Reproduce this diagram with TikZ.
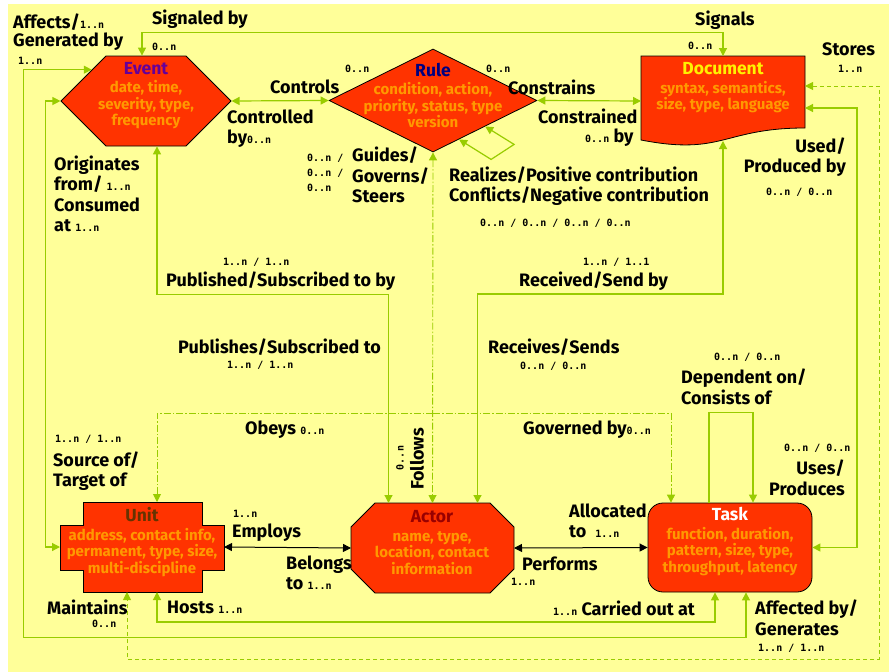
\documentclass[tikz,border=0pt]{standalone}
\usepackage{fontspec}
\setmainfont{Fira Sans}
\newfontfamily\multfont{DejaVu Sans Mono}
\usetikzlibrary{arrows.meta,shapes.geometric,shapes.symbols,calc}
\definecolor{bgyellow}{HTML}{FFFF99}
\definecolor{linkgreen}{HTML}{99CC00}
\definecolor{entityred}{HTML}{FF3300}
\definecolor{attrorange}{HTML}{FF9900}
\definecolor{eventpurple}{HTML}{660099}
\definecolor{rulenavy}{HTML}{000080}
\definecolor{unitbrown}{HTML}{663300}
\definecolor{actorred}{HTML}{990000}
\newcommand{\mlt}[1]{{\fontsize{10}{13}\multfont\bfseries #1}}
\newcommand{\ttl}[2]{{\fontsize{17.5}{19}\selectfont\color{#1}#2}}
\begin{document}
\begin{tikzpicture}
	[x=1pt, y=-1pt,
	>={Triangle[length=8pt,width=8pt]},
	entity/.style={draw=black, line width=0.8pt, fill=entityred, inner sep=0pt},
	hidden/.style={inner sep=0pt, outer sep=0pt},
	entitytext/.style={align=center, inner sep=0pt, text=attrorange,
		font=\fontsize{15}{16.5}\selectfont\bfseries},
	link/.style={draw=linkgreen, line width=1.2pt},
	rulelink/.style={draw=linkgreen, line width=0.9pt, dash pattern=on 7pt off 2pt on 1.5pt off 2pt},
	storelink/.style={draw=linkgreen, line width=0.9pt, dash pattern=on 4pt off 3pt},
	pairlink/.style={draw=black, line width=1pt},
	lbl/.style={anchor=west, inner sep=0pt, font=\fontsize{18}{20.5}\selectfont\bfseries},
	mult/.style={anchor=west, inner sep=0pt, font=\fontsize{10}{15}\multfont\bfseries}]
	\useasboundingbox (0,0) rectangle (889,672);
	\fill[bgyellow] (8,4) rectangle (889,672);

	\node[entity, signal, signal to=west and east, signal pointer angle=90,
		minimum width=170pt, minimum height=90pt] (event) at (146,101) {};
	\node[entity, diamond, minimum width=208pt, minimum height=103pt] (rule) at (433,100.5) {};
	\node[hidden, minimum width=164pt, minimum height=90pt] (doc) at (723,101) {};
	\draw[entity] (doc.north west) -- (doc.north east) -- (805,128)
		.. controls (723,128) and (723,156) .. (641,140) -- cycle;
	\node[hidden, minimum width=164pt, minimum height=90pt] (unit) at (142,547) {};
	\draw[entity] (83,502) -- (202,502) -- (202,525) -- (224,525) -- (224,570) -- (202,570)
		-- (202,592) -- (83,592) -- (83,570) -- (60,570) -- (60,525) -- (83,525) -- cycle;
	\node[hidden, minimum width=163pt, minimum height=90pt] (actor) at (432.5,548) {};
	\draw[entity] (375,503) -- (490,503) -- (514,527) -- (514,569) -- (490,593) -- (375,593)
		-- (351,569) -- (351,527) -- cycle;
	\node[entity, rounded corners=15pt, minimum width=164pt, minimum height=89pt] (task) at (730,547.5) {};

	\node[entitytext] (event-txt) at (146,95.5) {\ttl{eventpurple}{Event}\\[2pt]date, time,\\severity, type,\\frequency};
	\node[entitytext] (rule-txt) at (433,95.5) {\ttl{rulenavy}{Rule}\\[2pt]condition, action,\\priority, status, type\\version};
	\node[entitytext] (doc-txt) at (723,88) {\ttl{yellow}{Document}\\[2pt]syntax, semantics,\\size, type, language};
	\node[entitytext] (unit-txt) at (142,542) {\ttl{unitbrown}{Unit}\\[2pt]address, contact info,\\permanent, type, size,\\multi-discipline};
	\node[entitytext] (actor-txt) at (432,542.5) {\ttl{actorred}{Actor}\\[2pt]name, type,\\location, contact\\information};
	\node[entitytext] (task-txt) at (730,541.5) {\ttl{white}{Task}\\[2pt]function, duration,\\pattern, size, type,\\throughput, latency};

	\draw[link,<->] ([xshift=-4pt]event.north) -- ++(0,-23) -| (doc.north);
	\draw[link,<->] (event.east) -- (rule.west);
	\draw[link,<->] (rule.east) -- (doc.west);
	\draw[link,<->] ($(rule.south)!0.25!(rule.east)$) -- ++(32,20) -- ++(23,-15) -- (rule.south east);
	\draw[rulelink,<->] (rule.south) -- (actor.north);
	\draw[rulelink,->] ([yshift=-261pt]rule.south) -| ([xshift=15pt]unit.north);
	\draw[rulelink,->] ([yshift=-261pt]rule.south) -| ([xshift=-59pt]task.north);
	\draw[link,<->] ([xshift=11pt]event.south) -- ++(0,148) -| ([xshift=-44pt]actor.north);
	\draw[link,<->] ([yshift=5pt]doc.south) -- ++(0,153) -| ([xshift=45pt]actor.north);
	\draw[link,<->] ([yshift=-7pt]doc.east) -- ++(52,0) |- (task.east);
	\draw[storelink,<->] ([yshift=15pt]doc.east) -- ++(74,0) -- ++(0,573) -| ([xshift=-15pt]unit.south);
	\draw[link,->] ([xshift=-21pt]task.north) -- ++(0,-90) -| ([xshift=23pt]task.north);
	\draw[pairlink,<->] (unit.east) -- (actor.west);
	\draw[pairlink,<->] (actor.east) -- (task.west);
	\draw[link,<->] ([xshift=15pt]unit.south) -- ++(0,30) -| ([xshift=-15pt]task.south);
	\draw[link,<->] (event.150) -- ++(-68,0) -- ++(0,568) -| ([xshift=16pt]task.south);
	\draw[link,<->] (event.west) -- ++(-15,0) |- (unit.west);

	\node[lbl] (affects) at (13,22) {Affects/\mlt{1..n}};
	\node[lbl] (generated) at (13,42) {Generated by};
	\node[mult] (affects-m) at (18,61) {1..n};
	\node[lbl] (signaled) at (152,19) {Signaled by};
	\node[mult] (signaled-m) at (152,47) {0..n};
	\node[lbl] (signals) at (695,20) {Signals};
	\node[mult] (signals-m) at (688,46) {0..n};
	\node[lbl] (stores) at (822,49) {Stores};
	\node[mult] (stores-m) at (838,69) {1..n};
	\node[mult] (controls-m) at (345,69) {0..n};
	\node[mult] (constrains-m) at (486,69) {0..n};
	\node[lbl] (controls) at (270,87) {Controls};
	\node[lbl] (constrains) at (508,87) {Constrains};
	\node[lbl] (controlled) at (227,117) {Controlled};
	\node[lbl] (controlled-by) at (227,139) {by\mlt{0..n}};
	\node[lbl] (constrained) at (538,116) {Constrained};
	\node[lbl] (constrained-by) at (585,138) {\mlt{0..n} by};
	\node[mult, align=left] (guides-m) at (307,173) {0..n /\\0..n /\\0..n};
	\node[lbl, align=left] (guides) at (352,175) {Guides/\\Governs/\\Steers};
	\node[lbl, align=left] (realizes) at (449,186) {Realizes/Positive contribution\\Conflicts/Negative contribution};
	\node[mult] (realizes-m) at (480,223) {0..n / 0..n / 0..n / 0..n};
	\node[lbl, align=left] (originates) at (54,194) {Originates\\from/ \mlt{1..n}\\Consumed\\at \mlt{1..n}};
	\node[lbl, align=right, anchor=east] (used) at (846,157) {Used/\\Produced by};
	\node[mult] (used-m) at (766,192) {0..n / 0..n};
	\node[mult] (published-m) at (223,262) {1..n / 1..n};
	\node[lbl] (published) at (166,281) {Published/Subscribed to by};
	\node[mult] (received-m) at (583,262) {1..n / 1..1};
	\node[lbl] (received) at (519,281) {Received/Send by};
	\node[lbl] (publishes) at (178,347) {Publishes/Subscribed to};
	\node[mult] (publishes-m) at (227,365) {1..n / 1..n};
	\node[lbl] (receives) at (488,347) {Receives/Sends};
	\node[mult] (receives-m) at (520,366) {0..n / 0..n};
	\node[mult] (dependent-m) at (714,357) {0..n / 0..n};
	\node[lbl, align=left] (dependent) at (681,387) {Dependent on/\\Consists of};
	\node[lbl] (obeys) at (245,430) {Obeys \mlt{0..n}};
	\node[lbl] (governed) at (523,430) {Governed by\mlt{0..n}};
	\node[mult] (source-m) at (55,439) {1..n / 1..n};
	\node[lbl, align=left] (source) at (53,471) {Source of/\\Target of};
	\node[mult] (uses-m) at (784,448) {0..n / 0..n};
	\node[lbl, align=right, anchor=east] (uses) at (845,478) {Uses/\\Produces};
	\node[lbl, anchor=center, rotate=90] (follows) at (417,459) {Follows};
	\node[mult, anchor=center, rotate=90] (follows-m) at (400,458) {0..n};
	\node[mult] (employs-m) at (233,514) {1..n};
	\node[lbl] (employs) at (232,533) {Employs};
	\node[lbl, align=left] (belongs) at (286,573) {Belongs\\to \mlt{1..n}};
	\node[lbl, align=left] (allocated) at (569,521) {Allocated\\to\enspace\mlt{1..n}};
	\node[lbl] (performs) at (522,564) {Performs};
	\node[mult] (performs-m) at (511,582) {1..n};
	\node[lbl] (maintains) at (47,607) {Maintains};
	\node[mult] (maintains-m) at (92,624) {0..n};
	\node[lbl] (hosts) at (167,607) {Hosts \mlt{1..n}};
	\node[lbl] (carried) at (553,608) {\mlt{1..n} Carried out at};
	\node[lbl, align=left] (affected) at (755,618) {Affected by/\\Generates};
	\node[mult] (affected-m) at (758,648) {1..n / 1..n};
\end{tikzpicture}
\end{document}
